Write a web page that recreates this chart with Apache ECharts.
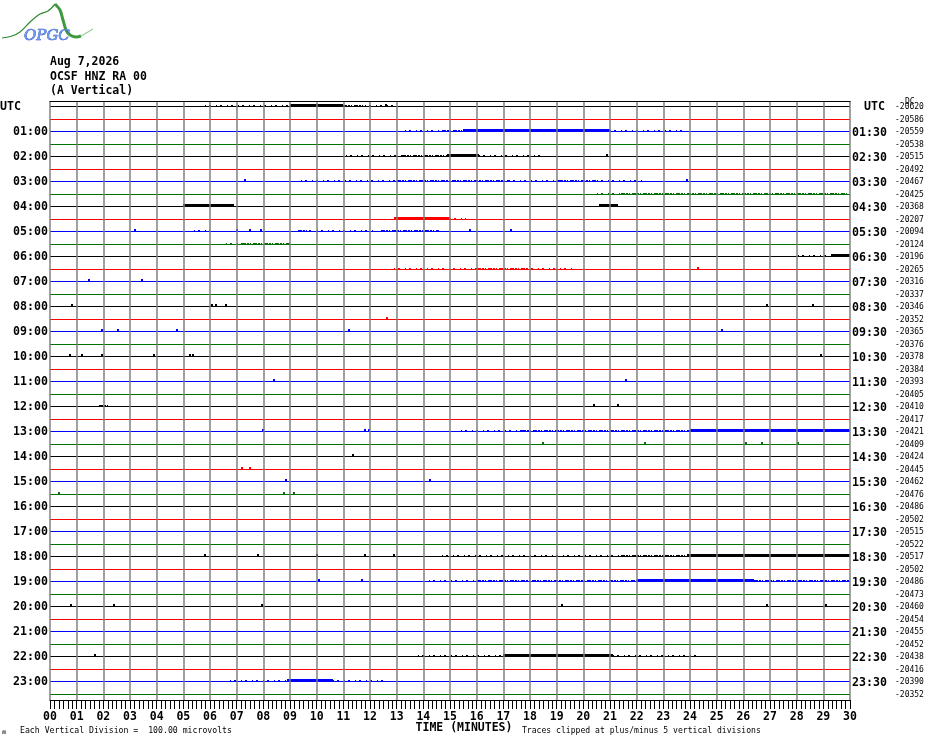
<!DOCTYPE html>
<html><head><meta charset="utf-8">
<script src="https://cdn.jsdelivr.net/npm/echarts@6/dist/echarts.min.js"></script>
<style>html,body{margin:0;padding:0;background:#fff}#c{width:930px;height:744px}</style>
</head><body><div id="c"></div>
<script>
const traceColors = ['#000000', '#ff0000', '#0000ff', '#007000'];
const minuteLabels = ['00','01','02','03','04','05','06','07','08','09','10','11','12','13','14','15','16','17','18','19','20','21','22','23','24','25','26','27','28','29','30'];
const leftTimeLabels = ['UTC','01:00','02:00','03:00','04:00','05:00','06:00','07:00','08:00','09:00','10:00','11:00','12:00','13:00','14:00','15:00','16:00','17:00','18:00','19:00','20:00','21:00','22:00','23:00'];
const rightTimeLabels = ['UTC','01:30','02:30','03:30','04:30','05:30','06:30','07:30','08:30','09:30','10:30','11:30','12:30','13:30','14:30','15:30','16:30','17:30','18:30','19:30','20:30','21:30','22:30','23:30'];
const dcOffsets = [-20620,-20586,-20559,-20538,-20515,-20492,-20467,-20425,-20368,-20207,-20094,-20124,-20196,-20265,-20316,-20337,-20346,-20352,-20365,-20376,-20378,-20384,-20393,-20405,-20410,-20417,-20421,-20409,-20424,-20445,-20462,-20476,-20486,-20502,-20515,-20522,-20517,-20502,-20486,-20473,-20460,-20454,-20455,-20452,-20438,-20416,-20390,-20352];
// [trace, startMinute, endMinute, level 1=sparse 2=medium 3=dense]
const noiseBursts = [
  [0,5.8,9.0,1],[0,9.0,11.0,3],[0,11.0,11.8,2],[0,11.8,12.9,1],
  [2,13.3,14.7,1],[2,14.7,15.5,2],[2,15.5,21.0,3],[2,21.0,23.9,1],
  [4,11.1,13.2,1],[4,13.2,14.9,2],[4,14.9,16.1,3],[4,16.1,18.4,1],
  [6,9.4,13.0,1],[6,13.0,17.2,2],[6,17.2,19.1,1],[6,19.1,20.5,2],[6,20.5,22.2,1],
  [7,20.5,21.4,1],[7,21.4,29.9,2],
  [8,5.0,6.9,3],[8,20.6,21.3,3],
  [9,12.9,15.0,3],[9,15.0,15.6,1],
  [10,5.4,6.0,1],[10,9.3,9.8,2],[10,10.0,12.2,1],[10,12.4,14.6,2],
  [11,6.6,7.2,1],[11,7.2,9.0,2],
  [12,28.05,29.3,1],[12,29.3,30.0,3],
  [13,12.9,16.0,1],[13,16.0,17.9,2],[13,17.9,19.6,1],
  [24,1.85,2.2,2],
  [26,15.4,17.7,1],[26,17.7,24.0,2],[26,24.0,30.0,3],
  [36,14.7,21.4,1],[36,21.4,23.9,2],[36,23.9,30.0,3],
  [38,14.2,16.0,1],[38,16.0,22.0,2],[38,22.0,26.4,3],[38,26.4,30.0,2],
  [44,13.8,17.0,1],[44,17.0,21.1,3],[44,21.1,24.3,1],
  [46,6.75,8.9,1],[46,8.9,10.6,3],[46,10.6,12.6,1]
];
// [trace, minute] isolated small spikes
const spikes = [
  [0,12.6],[4,20.9],[6,7.3],[6,23.9],[10,3.2],[10,7.0],[10,7.5],[10,7.9],[10,15.75],[10,17.3],[13,24.3],
  [14,1.47],[14,3.44],[16,0.83],[16,6.06],[16,6.23],[16,6.6],[16,26.9],[16,28.6],[17,12.64],
  [18,1.94],[18,2.55],[18,4.77],[18,11.2],[18,25.2],[20,0.75],[20,1.2],[20,1.95],[20,3.9],[20,5.25],[20,5.36],[20,28.9],
  [22,8.4],[22,21.6],[24,20.4],[24,21.3],[26,7.98],[26,11.8],[26,11.95],
  [27,18.5],[27,22.3],[27,26.1],[27,26.7],[27,28.05],[28,11.37],[29,7.19],[29,7.51],
  [30,8.84],[30,14.25],[31,0.35],[31,8.77],[31,9.16],
  [36,5.8],[36,7.8],[36,10.0],[36,11.8],[36,12.9],[38,10.1],[38,11.7],
  [40,0.8],[40,2.4],[40,7.95],[40,19.2],[40,26.9],[40,29.1],[44,1.7]
];

const MONO = 'DejaVu Sans Mono';
const chart = echarts.init(document.getElementById('c'), null, {renderer: 'canvas'});

// snap a y pixel to the centre of a device pixel so 1px traces stay crisp
const crisp = y => Math.round(y - 0.5) + 0.5;

function renderTrace(params, api) {
  const i = api.value(0);
  const p0 = api.coord([0, i]), p1 = api.coord([30, i]);
  const y = crisp(p0[1]);
  return {type: 'line', shape: {x1: p0[0], y1: y, x2: p1[0], y2: y}, style: {stroke: traceColors[i % 4], lineWidth: 1}};
}
function renderNoise(params, api) {
  const t = api.value(0), s = api.value(1), e = api.value(2), lvl = api.value(3);
  const p0 = api.coord([s, t]), p1 = api.coord([e, t]);
  const col = traceColors[t % 4];
  const y = crisp(p0[1]);
  const x0 = Math.round(p0[0]), x1 = Math.round(p1[0]);
  if (lvl === 3) {
    return {type: 'rect', shape: {x: x0, y: y - 2.5, width: x1 - x0, height: 2}, style: {fill: col}};
  }
  return {type: 'line', shape: {x1: x0, y1: y - 1, x2: x1, y2: y - 1},
    style: {stroke: col, lineWidth: 1, lineDash: lvl === 2 ? [4, 1, 2, 1, 1, 2] : [1, 3, 2, 5]}};
}
function renderSpike(params, api) {
  const t = api.value(0), m = api.value(1);
  const p = api.coord([m, t]);
  const y = crisp(p[1]);
  return {type: 'rect', shape: {x: Math.round(p[0]) - 1, y: y - 2.5, width: 2, height: 2}, style: {fill: traceColors[t % 4]}};
}
function renderLabels(params, api) {
  const i = api.value(0), num = api.value(1);
  const pL = api.coord([0, i]), pR = api.coord([30, i]);
  const ch = [{type: 'text', style: {text: String(num), x: pR[0] + 45, y: pR[1] + 0.5, fontSize: 8, fontFamily: MONO, fill: '#000', verticalAlign: 'middle', align: 'left'}}];
  if (i % 2 === 0) {
    const k = i / 2;
    if (k === 0) {
      ch.push({type: 'text', style: {text: leftTimeLabels[0], x: 0, y: pL[1], fontSize: 11.6, fontWeight: 'bold', fontFamily: MONO, fill: '#000', verticalAlign: 'middle', align: 'left'}});
      ch.push({type: 'text', style: {text: rightTimeLabels[0], x: pR[0] + 14, y: pR[1], fontSize: 11.6, fontWeight: 'bold', fontFamily: MONO, fill: '#000', verticalAlign: 'middle', align: 'left'}});
    } else {
      ch.push({type: 'text', style: {text: leftTimeLabels[k], x: pL[0] - 2, y: pL[1], fontSize: 11.6, fontWeight: 'bold', fontFamily: MONO, fill: '#000', verticalAlign: 'middle', align: 'right'}});
      ch.push({type: 'text', style: {text: rightTimeLabels[k], x: pR[0] + 2, y: pR[1] + 1, fontSize: 11.6, fontWeight: 'bold', fontFamily: MONO, fill: '#000', verticalAlign: 'middle', align: 'left'}});
    }
  }
  return {type: 'group', children: ch};
}

const option = {
  animation: false,
  backgroundColor: '#fff',
  grid: {left: 50, right: 80, top: 101, bottom: 44, containLabel: false},
  xAxis: [{
    type: 'value', min: 0, max: 30, interval: 1, position: 'bottom', z: 5,
    axisLine: {show: true, onZero: false, lineStyle: {color: '#000', width: 1}},
    axisTick: {show: true, length: 9, lineStyle: {color: '#000', width: 1}},
    minorTick: {show: true, splitNumber: 6, length: 9, lineStyle: {color: '#000', width: 1}},
    splitLine: {show: true, lineStyle: {color: '#808080', width: 1.5}},
    axisLabel: {margin: 11, fontFamily: MONO, fontWeight: 'bold', fontSize: 11.5, color: '#000', showMinLabel: true, showMaxLabel: true,
      formatter: v => minuteLabels[Math.round(v)]}
  }, {
    type: 'value', min: 0, max: 30, position: 'top', z: 5,
    axisLine: {show: true, onZero: false, lineStyle: {color: '#000', width: 1}},
    axisTick: {show: false}, axisLabel: {show: false}, splitLine: {show: false}
  }],
  yAxis: {type: 'value', inverse: true, min: -0.44, max: 47.48, show: false},
  series: [
    {type: 'custom', z: 1, silent: true, renderItem: renderTrace, data: dcOffsets.map((v, i) => [i])},
    {type: 'custom', z: 2, silent: true, renderItem: renderNoise, data: noiseBursts},
    {type: 'custom', z: 2, silent: true, renderItem: renderSpike, data: spikes},
    {type: 'custom', z: 6, silent: true, clip: false, renderItem: renderLabels, data: dcOffsets.map((v, i) => [i, v])}
  ],
  graphic: [
    {type: 'polyline', silent: true, shape: {points: [[2,38],[12,36],[20,32],[30,22],[40,14],[48,11],[55,4]], smooth: 0.3}, style: {stroke: '#2e8b2e', lineWidth: 1.2, fill: null}},
    {type: 'polyline', silent: true, shape: {points: [[55,4],[60,10],[63,20],[66,30],[70,35],[76,37],[81,36]], smooth: 0.3}, style: {stroke: '#3f9a3f', lineWidth: 3, fill: null}},
    {type: 'polyline', silent: true, shape: {points: [[81,36],[88,32],[93,29]], smooth: 0.3}, style: {stroke: '#9ccc9c', lineWidth: 1.2, fill: null}},
    {type: 'text', silent: true, style: {text: 'OPGC', x: 24, y: 36, fontSize: 15, fontStyle: 'italic', fontFamily: 'DejaVu Serif', fill: '#6b95ee', stroke: '#2448b8', lineWidth: 0.6, verticalAlign: 'middle', align: 'left'}},
    {type: 'text', silent: true, style: {text: 'Aug 7,2026', x: 50, y: 62, fontSize: 11.5, fontWeight: 'bold', fontFamily: MONO, fill: '#000', verticalAlign: 'middle'}},
    {type: 'text', silent: true, style: {text: 'OCSF HNZ RA 00', x: 50, y: 77, fontSize: 11.5, fontWeight: 'bold', fontFamily: MONO, fill: '#000', verticalAlign: 'middle'}},
    {type: 'text', silent: true, style: {text: '(A Vertical)', x: 50, y: 91.5, fontSize: 11.5, fontWeight: 'bold', fontFamily: MONO, fill: '#000', verticalAlign: 'middle'}},
    {type: 'text', silent: true, style: {text: 'DC', x: 905, y: 102, fontSize: 8, fontFamily: MONO, fill: '#000', verticalAlign: 'middle'}},
    {type: 'text', silent: true, style: {text: 'TIME (MINUTES)', x: 464, y: 728, fontSize: 11.5, fontWeight: 'bold', fontFamily: MONO, fill: '#000', verticalAlign: 'middle', align: 'center'}},
    {type: 'text', silent: true, style: {text: 'Each Vertical Division =  100.00 microvolts', x: 20, y: 730.5, fontSize: 8.2, fontFamily: MONO, fill: '#000', verticalAlign: 'middle'}},
    {type: 'text', silent: true, style: {text: 'Traces clipped at plus/minus 5 vertical divisions', x: 522, y: 730.5, fontSize: 8.1, fontFamily: MONO, fill: '#000', verticalAlign: 'middle'}},
    {type: 'text', silent: true, style: {text: 'ʍ', x: 2, y: 732, fontSize: 7, fontFamily: MONO, fill: '#000', verticalAlign: 'middle'}}
  ]
};
chart.setOption(option);
</script></body></html>
